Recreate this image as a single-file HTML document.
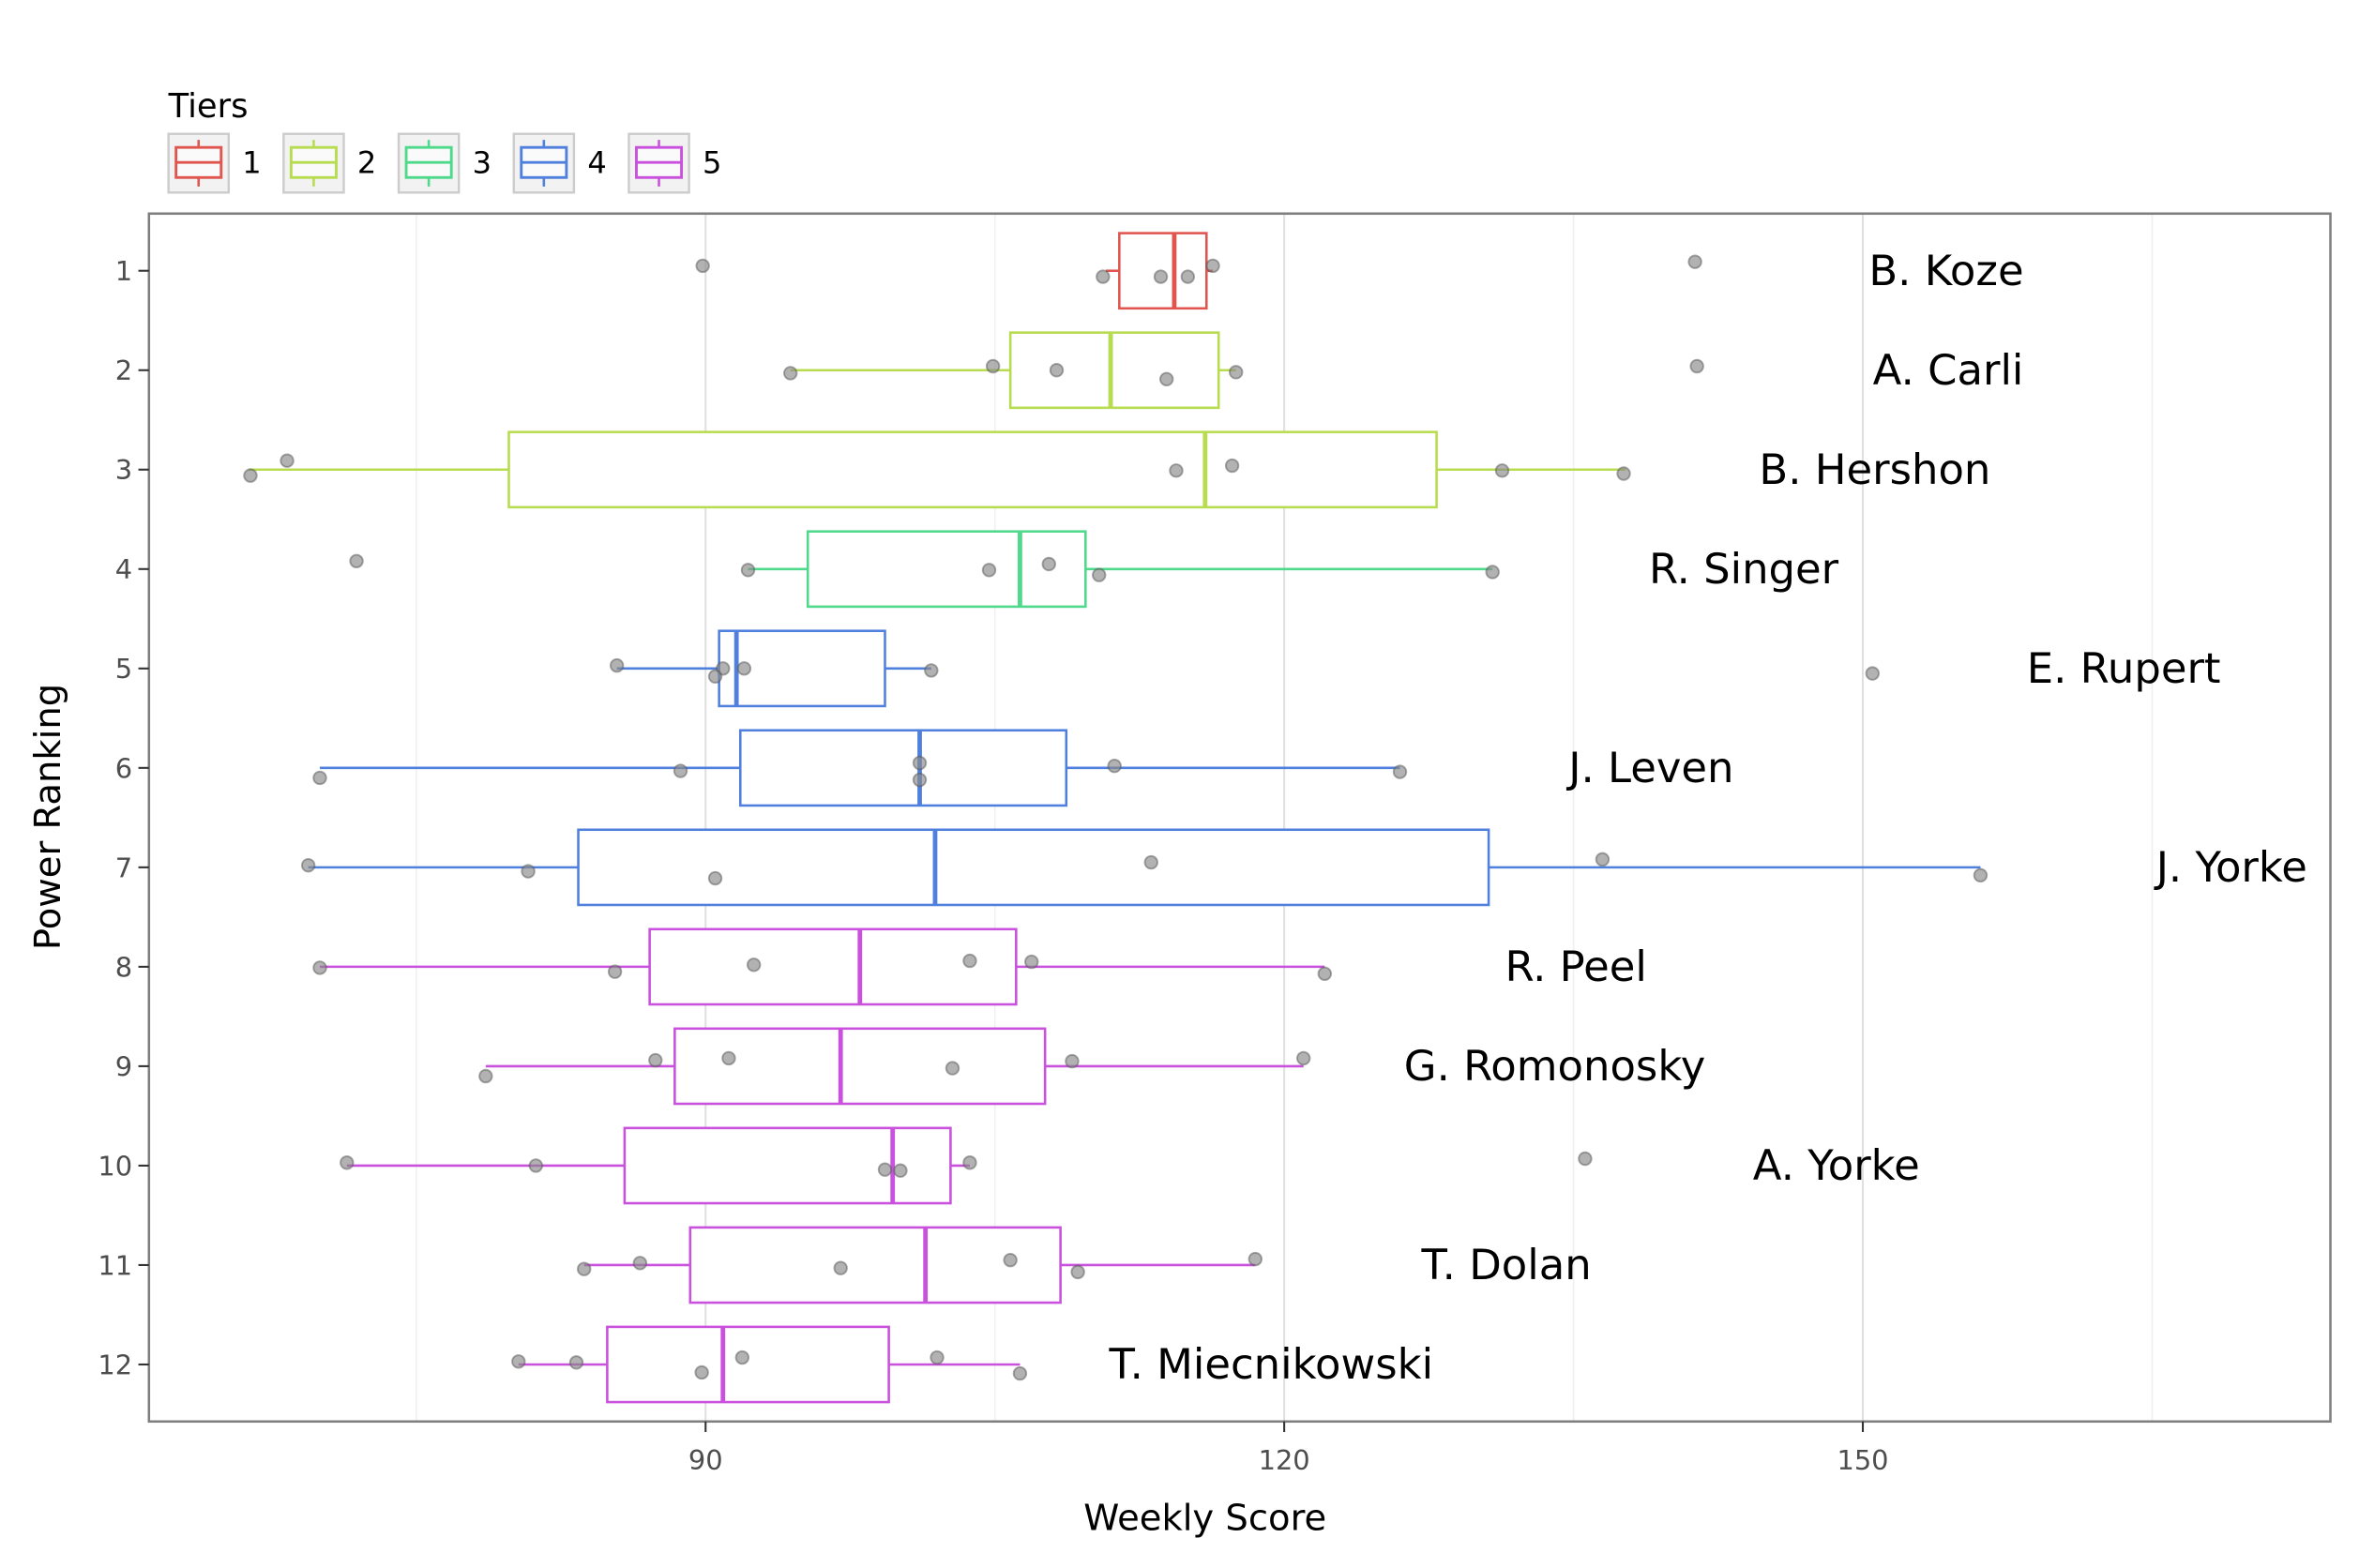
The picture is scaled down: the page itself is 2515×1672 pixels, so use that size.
<!DOCTYPE html>
<html><head><meta charset="utf-8"><style>
html,body{margin:0;padding:0;background:#fff;}
svg{display:block;font-family:"DejaVu Sans","Liberation Sans",sans-serif;}
</style></head><body>
<svg id="chart" width="2515" height="1672" viewBox="0 0 1568 1042.4" preserveAspectRatio="none" xmlns="http://www.w3.org/2000/svg">
<g id="legend"></g>
<rect x="99" y="142" width="1450" height="803" fill="#fff"/>
<g id="grid"></g>
<g id="marks"></g>
<rect x="99" y="142" width="1450" height="803" fill="none" stroke="#7f7f7f" stroke-width="1.6"/>
<g id="axes"></g>
<text x="801" y="1017" text-anchor="middle" font-size="24" fill="#000">Weekly Score</text>
<text transform="translate(40,543) rotate(-90)" text-anchor="middle" font-size="24" fill="#000">Power Ranking</text>
</svg>
<script>
const names=["B. Koze","A. Carli","B. Hershon","R. Singer","E. Rupert","J. Leven","J. Yorke","R. Peel","G. Romonosky","A. Yorke","T. Dolan","T. Miecnikowski"];
const tiers=[1,2,2,3,4,4,4,5,5,5,5,5];
const q1=[111.45,105.8,79.8,95.3,90.7,91.8,83.4,87.1,88.4,85.8,89.2,84.9];
const medians=[114.3,111.0,115.9,106.3,91.6,101.1,101.9,98.0,97.0,99.7,101.4,90.9];
const q3=[115.97,116.6,127.9,109.7,99.3,108.7,130.6,106.1,107.6,102.7,108.4,99.5];
const whiskLo=[110.75,94.4,66.3,92.2,85.4,70.0,69.4,70.0,78.6,71.4,83.7,80.3];
const whiskHi=[116.3,117.5,137.7,130.8,101.7,126.0,156.1,122.1,121.0,103.7,118.5,106.3];
const scores=[
[89.85,110.6,113.6,115.0,116.3,141.3],
[94.4,104.9,108.2,113.9,117.5,141.4],
[66.4,68.3,114.4,117.3,131.3,137.6],
[71.9,92.2,104.7,107.8,110.4,130.8],
[85.4,90.9,90.5,92.0,101.7,150.5],
[70.0,88.7,101.1,101.1,111.2,126.0],
[69.4,80.8,90.5,113.1,136.5,156.1],
[70.0,85.3,92.5,103.7,106.9,122.1],
[78.6,87.4,91.2,102.8,109.0,121.0],
[71.4,81.2,99.3,100.1,103.7,135.6],
[83.7,86.6,97.0,105.8,109.3,118.5],
[80.3,83.3,89.8,91.9,102.0,106.3]];
const jitter=[
[-0.05,0.06,0.06,0.06,-0.05,-0.09],
[0.03,-0.04,0.0,0.09,0.02,-0.04],
[0.06,-0.09,0.01,-0.04,0.01,0.04],
[-0.08,0.01,0.01,-0.05,0.06,0.03],
[-0.03,0.0,0.08,0.0,0.02,0.05],
[0.1,0.03,-0.05,0.12,-0.02,0.04],
[-0.02,0.04,0.11,-0.05,-0.08,0.08],
[0.01,0.05,-0.02,-0.06,-0.05,0.07],
[0.1,-0.06,-0.08,0.02,-0.05,-0.08],
[-0.03,0.0,0.04,0.05,-0.03,-0.07],
[0.04,-0.02,0.03,-0.05,0.07,-0.06],
[-0.03,-0.02,0.08,-0.07,-0.07,0.09]];
const xTicks=[90,120,150];
const xMinor=[75,105,135,165];
const tierColors={1:"#e0564f",2:"#b8dc4f",3:"#4fd98b",4:"#5080dd",5:"#c951dd"};
const NS="http://www.w3.org/2000/svg";
const X=v=>469+(v-90)*12.82;
const Y=r=>180+(r-1)*66.1;
function mk(tag,attrs,parent,text){const e=document.createElementNS(NS,tag);for(const k in attrs)e.setAttribute(k,attrs[k]);if(text!==undefined)e.textContent=text;parent.appendChild(e);return e;}
const grid=document.getElementById('grid'),marks=document.getElementById('marks'),axes=document.getElementById('axes'),legend=document.getElementById('legend');
xMinor.forEach(v=>{const l=mk('line',{x1:X(v),x2:X(v),y1:142,y2:945,stroke:"#f0f0f0","stroke-width":1},grid);

});
xTicks.forEach(v=>{const l=mk('line',{x1:X(v),x2:X(v),y1:142,y2:945,stroke:"#e0e0e0","stroke-width":1.3},grid);


const t=mk('line',{x1:X(v),x2:X(v),y1:945,y2:952,stroke:"#333","stroke-width":1.3},axes);


const tx=mk('text',{x:X(v),y:977,"text-anchor":"middle","font-size":18,fill:"#4d4d4d"},axes,String(v));

});
names.forEach((n,i)=>{const r=i+1,y=Y(r),c=tierColors[tiers[i]];
const t=mk('line',{x1:92,x2:99,y1:y,y2:y,stroke:"#333","stroke-width":1.3},axes);


const tl=mk('text',{x:88,y:y+6.5,"text-anchor":"end","font-size":18,fill:"#4d4d4d"},axes,String(r));


const g=mk('g',{},marks);


mk('line',{x1:X(whiskLo[i]),x2:X(q1[i]),y1:y,y2:y,stroke:c,"stroke-width":1.6},g);
mk('line',{x1:X(q3[i]),x2:X(whiskHi[i]),y1:y,y2:y,stroke:c,"stroke-width":1.6},g);
const b=mk('rect',{x:X(q1[i]),y:y-25,width:X(q3[i])-X(q1[i]),height:50,fill:"#fff",stroke:c,"stroke-width":1.6},g);


mk('line',{x1:X(medians[i]),x2:X(medians[i]),y1:y-25,y2:y+25,stroke:c,"stroke-width":3},g);
scores[i].forEach((s,j)=>{const p=mk('circle',{cx:X(s),cy:y+jitter[i][j]*66.1,r:4.2,fill:"#888","fill-opacity":0.65,stroke:"#555","stroke-opacity":0.5,"stroke-width":1.2},g);

});
const mx=Math.max(...scores[i]);
const lab=mk('text',{x:X(mx)+167,y:y+9.5,"text-anchor":"middle","font-size":28,fill:"#000"},marks,n);

});
const lt=mk('text',{x:112,y:78,"font-size":22,fill:"#000"},legend,"Tiers");


[1,2,3,4,5].forEach((k,i)=>{const x0=112+i*76.5,c=tierColors[k];
const g=mk('g',{},legend);


mk('rect',{x:x0,y:89,width:40,height:39,fill:"#f2f2f2",stroke:"#ccc","stroke-width":1.5},g);
mk('line',{x1:x0+20,x2:x0+20,y1:93,y2:124,stroke:c,"stroke-width":1.6},g);
mk('rect',{x:x0+5,y:98,width:30,height:20,fill:"#fafafa",stroke:c,"stroke-width":1.8},g);
mk('line',{x1:x0+5,x2:x0+35,y1:108,y2:108,stroke:c,"stroke-width":1.8},g);
mk('text',{x:x0+49,y:115,"font-size":20,fill:"#000"},g,String(k));});
</script>
</body></html>
